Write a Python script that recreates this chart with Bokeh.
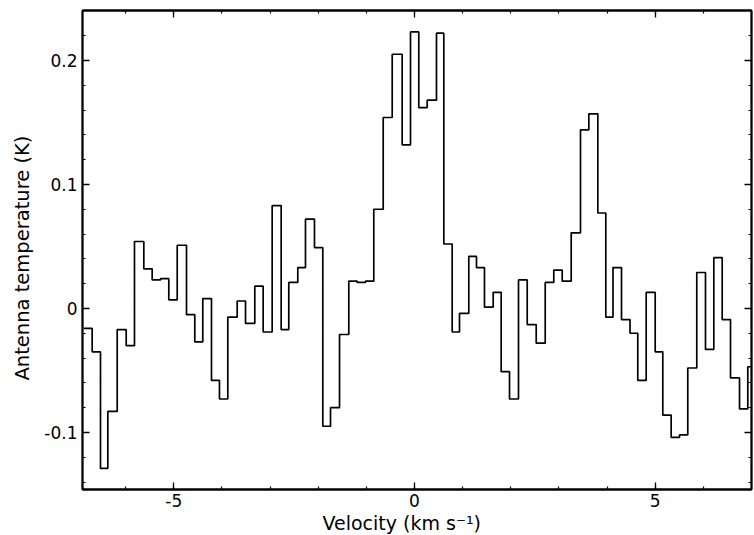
from bokeh.plotting import figure
from bokeh.models import Range1d, FixedTicker, LinearAxis, Title
from bokeh.embed import file_html
from bokeh.resources import INLINE

# Channel edges (km/s)
vel_edges = [-6.870, -6.697, -6.524, -6.372, -6.177, -5.990, -5.818, -5.624, -5.450, -5.277,
             -5.105, -4.930, -4.737, -4.565, -4.399, -4.218, -4.052, -3.879, -3.684, -3.511,
             -3.318, -3.144, -2.957, -2.770, -2.612, -2.425, -2.265, -2.078, -1.905, -1.745,
             -1.558, -1.365, -1.191, -1.018, -0.846, -0.650, -0.463, -0.256, -0.083, 0.089,
             0.264, 0.457, 0.609, 0.783, 0.935, 1.128, 1.288, 1.454, 1.635, 1.801,
             1.974, 2.161, 2.342, 2.529, 2.716, 2.894, 3.069, 3.256, 3.449, 3.622,
             3.809, 3.975, 4.124, 4.301, 4.478, 4.639, 4.814, 5.001, 5.159, 5.333,
             5.506, 5.678, 5.865, 6.046, 6.219, 6.393, 6.566, 6.753, 6.925, 7.100]

# Antenna temperature (K) per channel
temps = [-0.016, -0.035, -0.129, -0.083, -0.017, -0.030, 0.054, 0.032, 0.023, 0.024,
         0.007, 0.051, -0.005, -0.027, 0.008, -0.058, -0.073, -0.007, 0.006, -0.012,
         0.018, -0.019, 0.083, -0.017, 0.021, 0.033, 0.072, 0.049, -0.095, -0.080,
         -0.021, 0.022, 0.021, 0.022, 0.080, 0.154, 0.205, 0.132, 0.223, 0.162,
         0.168, 0.222, 0.052, -0.019, -0.004, 0.042, 0.033, 0.001, 0.013, -0.051,
         -0.073, 0.023, -0.013, -0.028, 0.021, 0.031, 0.022, 0.061, 0.144, 0.157,
         0.077, -0.007, 0.033, -0.009, -0.020, -0.058, 0.013, -0.035, -0.086, -0.104,
         -0.102, -0.048, 0.029, -0.033, 0.041, -0.009, -0.056, -0.081, -0.047]

x_ticks = [-5, 0, 5]
x_tick_labels = ["-5", "0", "5"]
x_minor = [-6, -5, -4, -3, -2, -1, 0, 1, 2, 3, 4, 5, 6]
y_ticks = [-0.1, 0.0, 0.1, 0.2]
y_tick_labels = ["-0.1", "0", "0.1", "0.2"]
y_minor = [-0.14, -0.12, -0.10, -0.08, -0.06, -0.04, -0.02, 0.0, 0.02, 0.04, 0.06, 0.08,
           0.10, 0.12, 0.14, 0.16, 0.18, 0.20, 0.22, 0.24]

x_title = "Velocity (km s\u207b\u00b9)"
y_title = "Antenna temperature (K)"

FONT = "DejaVu Sans"

p = figure(width=754, height=535, output_backend="svg", toolbar_location=None,
           x_range=Range1d(-6.898, 7.002), y_range=Range1d(-0.146, 0.2403),
           min_border_left=82, min_border_right=3, min_border_top=10, min_border_bottom=46,
           background_fill_color="white", border_fill_color="white")
p.xgrid.visible = False
p.ygrid.visible = False
p.outline_line_color = "black"
p.outline_line_width = 1.8

step_y = temps + [temps[-1]]
p.step(x=vel_edges, y=step_y, mode="after", line_color="black", line_width=1.7)

p.add_layout(LinearAxis(), "above")
p.add_layout(LinearAxis(), "right")

xt = FixedTicker(ticks=x_ticks, minor_ticks=x_minor)
yt = FixedTicker(ticks=y_ticks, minor_ticks=y_minor)

for ax in p.below + p.above:
    ax.ticker = xt
for ax in p.left + p.right:
    ax.ticker = yt

for ax in p.below + p.above + p.left + p.right:
    ax.axis_line_color = "black"
    ax.axis_line_width = 1.8
    ax.major_tick_in = 7
    ax.major_tick_out = 0
    ax.minor_tick_in = 3
    ax.minor_tick_out = 0
    ax.major_tick_line_color = "black"
    ax.minor_tick_line_color = "black"
    ax.major_tick_line_width = 1.3
    ax.minor_tick_line_width = 1.2
    ax.major_label_text_font = FONT
    ax.major_label_text_color = "black"
    ax.major_label_text_font_size = "17px"

p.below[0].major_label_overrides = dict(zip(x_ticks, x_tick_labels))
p.below[0].major_label_standoff = 4
p.left[0].major_label_overrides = dict(zip(y_ticks, y_tick_labels))
p.left[0].major_label_standoff = 5

for ax in p.above:
    ax.major_label_overrides = {t: "" for t in x_ticks}
for ax in p.right:
    ax.major_label_overrides = {t: "" for t in y_ticks}
for ax in p.above + p.right:
    ax.major_label_text_font_size = "0px"
    ax.major_label_standoff = 0

ytitle = Title(text=y_title, align="left", offset=109, standoff=15, vertical_align="bottom",
               text_font=FONT, text_font_size="19.5px", text_font_style="normal",
               text_color="black")
xtitle = Title(text=x_title, align="left", offset=240, standoff=0, vertical_align="bottom",
               text_font=FONT, text_font_size="19px", text_font_style="normal",
               text_color="black")
p.add_layout(ytitle, "left")
p.add_layout(xtitle, "below")

open("out.html", "w").write(file_html(p, INLINE))
